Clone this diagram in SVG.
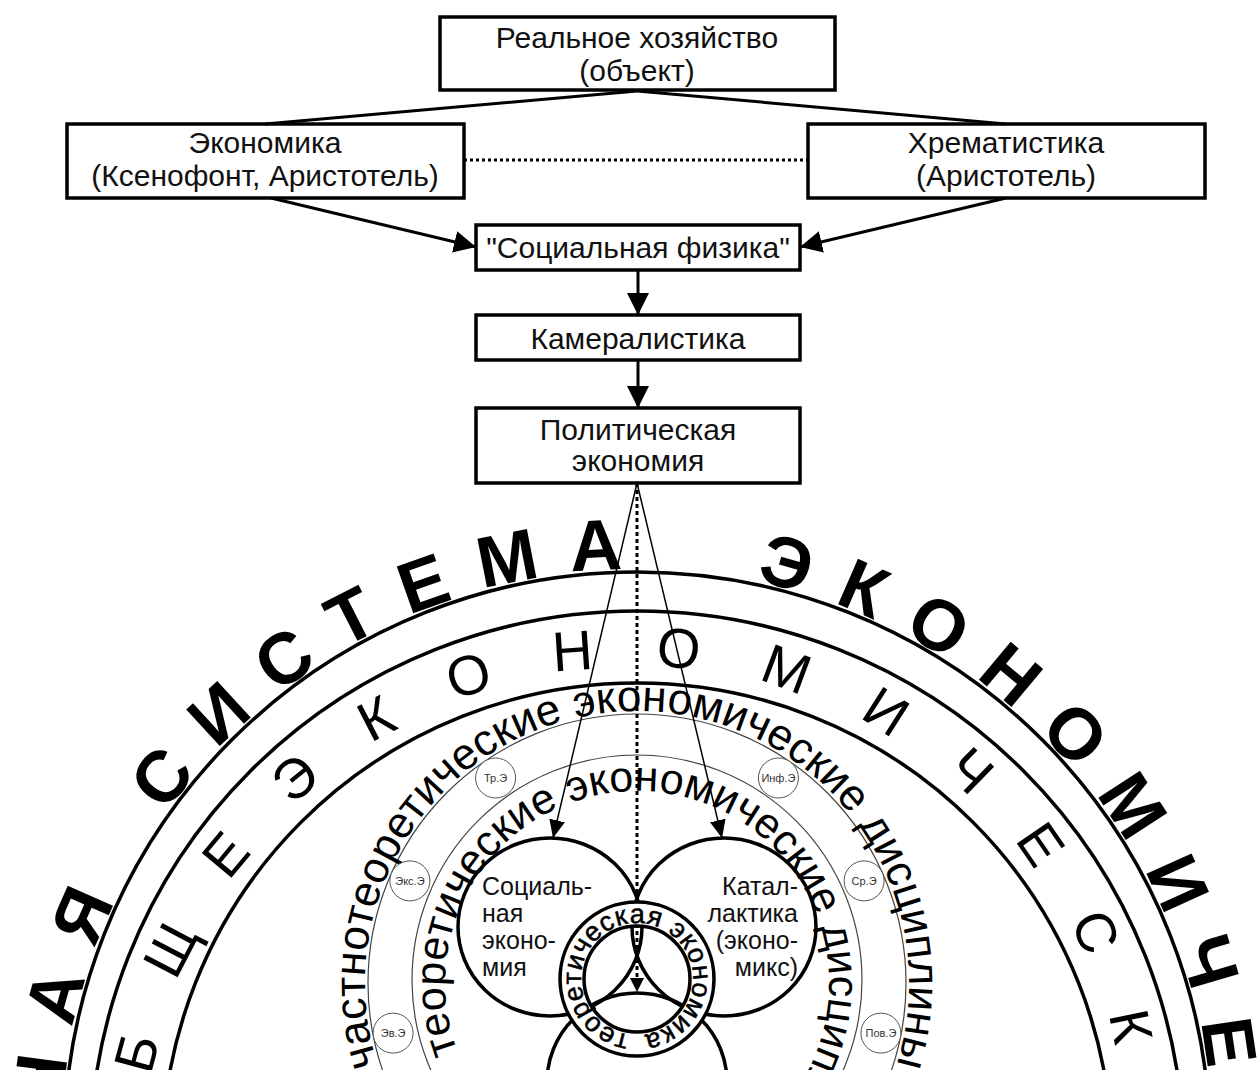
<svg xmlns="http://www.w3.org/2000/svg" width="1257" height="1070" viewBox="0 0 1257 1070">
<style>
.box{fill:#fff;stroke:#000;stroke-width:3.5}
.bt{font-family:"Liberation Sans",Arial,sans-serif;font-size:30px;text-anchor:middle;fill:#111}
.thick{fill:none;stroke:#000;stroke-width:3.5}
.thin{fill:none;stroke:#444;stroke-width:1.2}
.sc{fill:#fff;stroke:#555;stroke-width:1}
.sct{font-family:"Liberation Sans",Arial,sans-serif;font-size:11px;text-anchor:middle;fill:#333}
.big{font-family:"Liberation Sans",Arial,sans-serif;font-size:72px;font-weight:bold;letter-spacing:30px;text-anchor:middle;fill:#000}
.band{font-family:"Liberation Sans",Arial,sans-serif;font-size:56px;letter-spacing:60.5px;text-anchor:middle;fill:#000}
.arc{font-family:"Liberation Sans",Arial,sans-serif;font-size:44px;fill:#000}
.vt{font-family:"Liberation Sans",Arial,sans-serif;font-size:25px;fill:#111}
.rt{font-family:"Liberation Sans",Arial,sans-serif;font-size:27px;letter-spacing:0.6px;fill:#000;stroke:#000;stroke-width:0.5}
.ln{fill:none;stroke:#000;stroke-width:3}
.tl{fill:none;stroke:#000;stroke-width:1.5}
</style>
<defs>
<marker id="ah" markerUnits="userSpaceOnUse" markerWidth="22" markerHeight="22" viewBox="0 0 22 22" refX="22" refY="11" orient="auto"><path d="M0,0 L22,11 L0,22 z" fill="#000"/></marker>
<marker id="ahs" markerUnits="userSpaceOnUse" markerWidth="18" markerHeight="16" viewBox="0 0 18 16" refX="18" refY="8" orient="auto"><path d="M0,0 L18,8 L0,16 z" fill="#000"/></marker>
<path id="pOuter" d="M138.2,1433 A576,576 0 1 1 1135.8,1433"/>
<path id="pBand" d="M211.8,1403.5 A491,491 0 1 1 1062.2,1403.5"/>
<path id="pA" d="M401.4,1119 A272,272 0 1 1 872.6,1119"/>
<path id="pB" d="M457.8,1051.8 A192,192 0 1 1 702.7,1163.4"/>
<path id="pRing" d="M629.2,1034.5 A56,56 0 1 1 644.8,1034.5"/>
</defs>
<rect width="1257" height="1070" fill="#fff"/>

<g id="system">
<text class="big"><textPath href="#pOuter" startOffset="460">НАЯ</textPath></text>
<text class="big"><textPath href="#pOuter" startOffset="938">СИСТЕМА</textPath></text>
<text class="big"><textPath href="#pOuter" startOffset="1695">ЭКОНОМИЧЕ</textPath></text>
<circle class="thick" cx="637" cy="1145" r="573"/>
<circle class="thick" cx="637" cy="1158" r="547"/>
<circle class="thick" cx="637" cy="1158" r="475"/>
<text class="band"><textPath href="#pBand" startOffset="1043">БЩЕЭКОНОМИЧЕСК</textPath></text>
</g>

<g id="disciplines">
<circle class="thin" cx="637" cy="983" r="269"/>
<circle class="thin" cx="637" cy="980" r="225"/>
<text class="arc" text-anchor="middle"><textPath href="#pA" startOffset="50%">частнотеоретические экономические дисциплины</textPath></text>
<text class="arc" style="font-size:43px"><textPath href="#pB" startOffset="0">теоретические экономические дисциплины</textPath></text>
</g>

<g id="small-circles">
<g id="tr"><circle class="sc" cx="495.6" cy="778" r="20"/><text class="sct" x="495.6" y="782">Тр.Э</text></g>
<g id="inf"><circle class="sc" cx="778.4" cy="778" r="20"/><text class="sct" x="778.4" y="782">Инф.Э</text></g>
<g id="eks"><circle class="sc" cx="409.9" cy="880.9" r="20"/><text class="sct" x="409.9" y="885">Экс.Э</text></g>
<g id="sr"><circle class="sc" cx="864.1" cy="880.9" r="20"/><text class="sct" x="864.1" y="885">Ср.Э</text></g>
<g id="ev"><circle class="sc" cx="393.1" cy="1033.1" r="20"/><text class="sct" x="393.1" y="1037">Эв.Э</text></g>
<g id="pov"><circle class="sc" cx="880.9" cy="1033.1" r="20"/><text class="sct" x="880.9" y="1037">Пов.Э</text></g>
</g>

<g id="social-economy">
<ellipse class="thick" cx="550" cy="927" rx="92" ry="89"/>
<text class="vt"><tspan x="482" y="895">Социаль-</tspan><tspan x="482" y="922">ная</tspan><tspan x="482" y="949">эконо-</tspan><tspan x="482" y="976">мия</tspan></text>
</g>
<g id="catallactics">
<ellipse class="thick" cx="724" cy="927" rx="92" ry="89"/>
<text class="vt" text-anchor="end"><tspan x="798" y="895">Катал-</tspan><tspan x="798" y="922">лактика</tspan><tspan x="798" y="949">(эконо-</tspan><tspan x="798" y="976">микс)</tspan></text>
</g>
<g id="third-circle">
<ellipse class="thick" cx="637" cy="1082" rx="90" ry="89"/>
</g>

<g id="boxes">
<g id="real"><rect class="box" x="440" y="17" width="395" height="73"/><text class="bt"><tspan x="637" y="48">Реальное хозяйство</tspan><tspan x="637" y="81">(объект)</tspan></text></g>
<g id="economics"><rect class="box" x="67" y="124" width="397" height="74"/><text class="bt"><tspan x="265" y="153">Экономика</tspan><tspan x="265" y="186">(Ксенофонт, Аристотель)</tspan></text></g>
<g id="chrem"><rect class="box" x="808" y="124" width="397" height="74"/><text class="bt"><tspan x="1006" y="153">Хрематистика</tspan><tspan x="1006" y="186">(Аристотель)</tspan></text></g>
<g id="socphys"><rect class="box" x="476" y="225" width="324" height="45"/><text class="bt" x="638" y="258">"Социальная физика"</text></g>
<g id="cameral"><rect class="box" x="476" y="315" width="324" height="45"/><text class="bt" x="638" y="349">Камералистика</text></g>
<g id="polit"><rect class="box" x="476" y="408" width="324" height="75"/><text class="bt"><tspan x="638" y="440">Политическая</tspan><tspan x="638" y="471">экономия</tspan></text></g>
</g>

<g id="connectors">
<line class="ln" x1="637" y1="91" x2="265" y2="124"/>
<line class="ln" x1="637" y1="91" x2="1006" y2="124"/>
<line class="ln" x1="464" y1="160" x2="808" y2="160" stroke-dasharray="3 3"/>
<line class="ln" x1="271" y1="198" x2="476" y2="247" marker-end="url(#ah)"/>
<line class="ln" x1="1006" y1="198" x2="800" y2="247" marker-end="url(#ah)"/>
<line class="ln" x1="638" y1="270" x2="638" y2="315" marker-end="url(#ah)"/>
<line class="ln" x1="638" y1="360" x2="638" y2="408" marker-end="url(#ah)"/>
<line class="ln" x1="637" y1="483" x2="637" y2="980" stroke-width="2" stroke-dasharray="4 3"/>
<line class="tl" x1="637" y1="483" x2="553" y2="838" marker-end="url(#ahs)"/>
<line class="tl" x1="637" y1="483" x2="722" y2="838" marker-end="url(#ahs)"/>
</g>

<g id="theoretical-economics">
<path d="M560,979 a77,77 0 1 0 154,0 a77,77 0 1 0 -154,0 Z M584,979 a53,53 0 1 0 106,0 a53,53 0 1 0 -106,0 Z" fill="#fff" fill-rule="evenodd"/>
<circle class="thick" cx="637" cy="979" r="77"/>
<circle class="thick" cx="637" cy="979" r="53"/>
<text class="rt"><textPath href="#pRing" startOffset="0">теоретическая экономика</textPath></text>
<polygon points="630,978 644,978 637,992" fill="#000"/>
</g>
</svg>
